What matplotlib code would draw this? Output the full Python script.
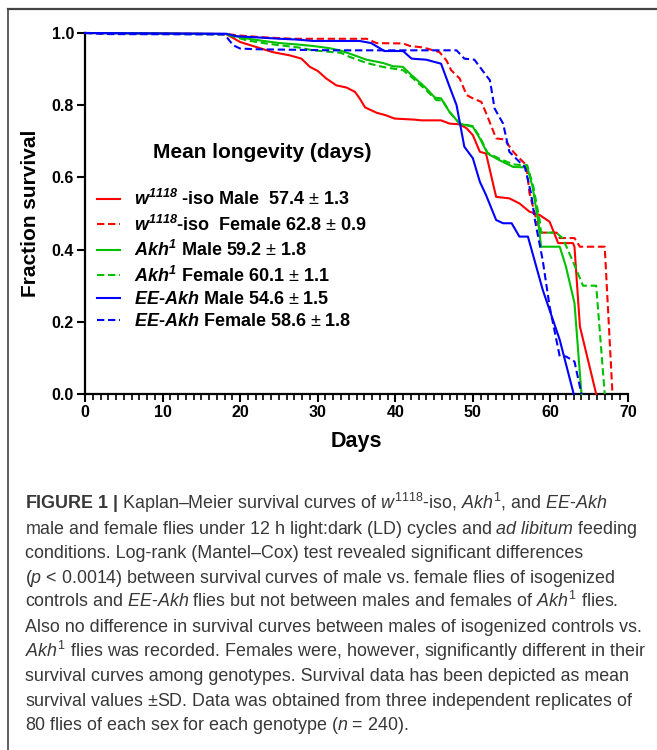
import matplotlib
matplotlib.use("Agg")
import matplotlib.pyplot as plt
from matplotlib.lines import Line2D
from matplotlib.ticker import MultipleLocator, FormatStrFormatter

plt.rcParams['font.family'] = ['Liberation Sans', 'DejaVu Sans']
plt.rcParams['mathtext.fontset'] = 'custom'
plt.rcParams['mathtext.rm'] = 'Liberation Sans'
plt.rcParams['mathtext.it'] = 'Liberation Sans:italic'
plt.rcParams['mathtext.bf'] = 'Liberation Sans:bold'
plt.rcParams['mathtext.bfit'] = 'Liberation Sans:italic:bold'

# Survival curves (day, fraction surviving)
w_male_days = [0, 18.2, 20, 22.1, 24.2, 26.4, 27.9, 29.0, 30.0, 31.1, 32.4, 33.7, 34.8, 35.4,
               36.1, 37.6, 38.8, 39.9, 42.5, 43.4, 45.9, 47.0, 48.3, 49.2, 50.0, 50.9, 51.7,
               53.0, 54.7, 56.0, 57.3, 58.6, 59.9, 61.0, 62.9, 63.1, 63.8, 65.9]
w_male_surv = [1.0, 0.997, 0.975, 0.961, 0.947, 0.938, 0.929, 0.906, 0.895, 0.874, 0.855, 0.849,
               0.837, 0.819, 0.794, 0.779, 0.772, 0.763, 0.760, 0.758, 0.758, 0.749, 0.747, 0.736,
               0.717, 0.671, 0.666, 0.546, 0.542, 0.528, 0.505, 0.496, 0.477, 0.418, 0.418, 0.408,
               0.187, 0.0]

w_female_days = [0, 18.2, 20, 23, 26.8, 36.3, 37.6, 41.0, 41.9, 43.6, 45.7, 46.6, 47.2, 48.3,
                 49.2, 50.0, 51.1, 51.9, 53.0, 54.1, 55.2, 56.0, 56.9, 57.3, 58.2, 58.8, 60.8,
                 61.2, 63.1, 63.8, 67.0, 68.0]
w_female_surv = [1.0, 0.997, 0.993, 0.988, 0.984, 0.984, 0.972, 0.971, 0.964, 0.960, 0.947, 0.924,
                 0.897, 0.874, 0.828, 0.819, 0.809, 0.768, 0.708, 0.705, 0.671, 0.653, 0.634, 0.556,
                 0.482, 0.447, 0.447, 0.432, 0.432, 0.408, 0.408, 0.0]

akh_male_days = [0, 18.2, 20.8, 23.0, 25.1, 27.5, 29.4, 31.5, 33.0, 34.1, 36.3, 38.4, 39.7, 41.0,
                 42.1, 43.8, 45.1, 45.9, 47.0, 48.3, 50.0, 50.9, 51.9, 53.4, 55.2, 56.4, 57.0,
                 57.7, 58.4, 58.8, 61.2, 62.0, 63.1, 64.0]
akh_male_surv = [1.0, 0.997, 0.985, 0.978, 0.972, 0.968, 0.964, 0.958, 0.951, 0.943, 0.926, 0.917,
                 0.908, 0.906, 0.883, 0.851, 0.821, 0.819, 0.781, 0.749, 0.740, 0.708, 0.666, 0.648,
                 0.629, 0.628, 0.629, 0.574, 0.482, 0.408, 0.408, 0.353, 0.252, 0.0]

akh_female_days = [0, 18.2, 20.8, 23.0, 25.1, 27.5, 29.4, 31.5, 33.0, 34.1, 36.3, 38.4, 41.0, 42.1,
                   44.0, 45.3, 46.1, 47.0, 48.3, 50.0, 50.9, 51.9, 53.4, 55.2, 56.4, 57.0, 57.8,
                   58.6, 58.8, 60.75, 61.6, 63.1, 64.2, 65.9, 67.0]
akh_female_surv = [1.0, 0.996, 0.980, 0.972, 0.966, 0.960, 0.952, 0.948, 0.945, 0.934, 0.917, 0.906,
                   0.897, 0.878, 0.841, 0.814, 0.813, 0.781, 0.749, 0.742, 0.712, 0.668, 0.652, 0.636,
                   0.634, 0.634, 0.574, 0.482, 0.447, 0.447, 0.431, 0.357, 0.300, 0.300, 0.0]

ee_male_days = [0, 18.2, 19.5, 22.1, 25.1, 27.2, 29.4, 35.4, 36.9, 38.6, 41.0, 42.1, 44.0, 45.9,
                47.0, 47.9, 48.9, 50.0, 50.9, 51.7, 53.0, 53.9, 55.0, 56.0, 57.1, 59.0, 61.2, 63.0]
ee_male_surv = [1.0, 0.998, 0.991, 0.988, 0.984, 0.982, 0.978, 0.978, 0.972, 0.950, 0.950, 0.929,
                0.926, 0.915, 0.851, 0.800, 0.685, 0.653, 0.588, 0.551, 0.482, 0.473, 0.473, 0.436,
                0.436, 0.289, 0.150, 0.0]

ee_female_days = [0, 3, 18.0, 19.1, 20.0, 22.0, 32.0, 47.9, 48.9, 50.2, 51.7, 52.2, 52.8, 53.9,
                  54.7, 56.0, 56.7, 57.5, 58.0, 59.0, 59.9, 61.2, 62.0, 63.1, 64.0]
ee_female_surv = [1.0, 0.997, 0.996, 0.966, 0.957, 0.955, 0.952, 0.952, 0.929, 0.926, 0.883, 0.869,
                  0.791, 0.749, 0.671, 0.643, 0.629, 0.556, 0.482, 0.371, 0.242, 0.104, 0.104,
                  0.090, 0.0]

labels = [
    r"$\mathbfit{w}^{\mathbfit{1118}}$ -iso Male  57.4 $\pm$ 1.3",
    r"$\mathbfit{w}^{\mathbfit{1118}}$-iso  Female 62.8 $\pm$ 0.9",
    r"$\mathbfit{Akh}^{\mathbfit{1}}$ Male 59.2 $\pm$ 1.8",
    r"$\mathbfit{Akh}^{\mathbfit{1}}$ Female 60.1 $\pm$ 1.1",
    r"$\mathbfit{EE}$-$\mathbfit{Akh}$ Male 54.6 $\pm$ 1.5",
    r"$\mathbfit{EE}$-$\mathbfit{Akh}$ Female 58.6 $\pm$ 1.8",
]
series = [
    (w_male_days, w_male_surv, '#ff0000', '-'),
    (w_female_days, w_female_surv, '#ff0000', '--'),
    (akh_male_days, akh_male_surv, '#00c000', '-'),
    (akh_female_days, akh_female_surv, '#00c000', '--'),
    (ee_male_days, ee_male_surv, '#0000ff', '-'),
    (ee_female_days, ee_female_surv, '#0000ff', '--'),
]

fig = plt.figure(figsize=(6.57, 7.5), dpi=100)
ax = fig.add_axes([85 / 657, 1 - 394 / 750, 543 / 657, 361 / 750])

handles = []
for (d, s, c, ls), lab in zip(series, labels):
    ln, = ax.plot(d, s, color=c, ls=ls, lw=1.5, clip_on=False, zorder=3)
    if ls == '--':
        ln.set_dashes((3.5, 1.8))
    handles.append(ln)

ax.set_xlim(0, 70)
ax.set_ylim(0, 1.0)
for side in ['top', 'right']:
    ax.spines[side].set_visible(False)
for side in ['left', 'bottom']:
    ax.spines[side].set_linewidth(1.6)
ax.xaxis.set_major_locator(MultipleLocator(10))
ax.xaxis.set_minor_locator(MultipleLocator(1))
ax.yaxis.set_major_locator(MultipleLocator(0.2))
ax.yaxis.set_major_formatter(FormatStrFormatter('%.1f'))
ax.tick_params(axis='both', which='major', length=6, width=1.5, labelsize=11.5, pad=2)
ax.tick_params(axis='x', which='minor', length=4, width=1.2)
for t in ax.get_xticklabels() + ax.get_yticklabels():
    t.set_fontweight('bold')

ax.set_xlabel("Days", fontsize=15.5, fontweight='bold', labelpad=8)
ax.set_ylabel("Fraction survival", fontsize=15, fontweight='bold', labelpad=8)

ax.text(0.326, 0.668, "Mean longevity (days)", transform=ax.transAxes, ha='center', va='center',
        fontsize=15, fontweight='bold')
ax.legend(handles, labels, loc='upper left', bbox_to_anchor=(0.022, 0.568), frameon=False,
          borderpad=0, borderaxespad=0, handlelength=1.3, handletextpad=0.75, labelspacing=0.3,
          prop={'weight': 'bold', 'size': 13})

# frame of the figure panel
fig.add_artist(Line2D([8 / 657, 1], [1 - 9 / 750, 1 - 9 / 750], transform=fig.transFigure,
                      color='#444444', lw=1.6))
fig.add_artist(Line2D([8 / 657, 8 / 657], [1 - 9 / 750, 0], transform=fig.transFigure,
                      color='#444444', lw=1.2))

caption = [
    r"$\mathbf{FIGURE}$ $\mathbf{1}$ $\mathbf{|}$ Kaplan–Meier survival curves of $\mathit{w}^{1118}$-iso, $\mathit{Akh}^{1}$, and $\mathit{EE}$-$\mathit{Akh}$",
    r"male and female flies under 12 h light:dark (LD) cycles and $\mathit{ad}$ $\mathit{libitum}$ feeding",
    "conditions. Log-rank (Mantel–Cox) test revealed significant differences",
    r"($\mathit{p}$ < 0.0014) between survival curves of male vs. female flies of isogenized",
    r"controls and $\mathit{EE}$-$\mathit{Akh}$ flies but not between males and females of $\mathit{Akh}^{1}$ flies.",
    "Also no difference in survival curves between males of isogenized controls vs.",
    r"$\mathit{Akh}^{1}$ flies was recorded. Females were, however, significantly different in their",
    "survival curves among genotypes. Survival data has been depicted as mean",
    r"survival values $\pm$SD. Data was obtained from three independent replicates of",
    r"80 flies of each sex for each genotype ($\mathit{n}$ = 240).",
]
for i, line in enumerate(caption):
    fig.text(25 / 657, 1 - (509 + i * 24.6) / 750, line, ha='left', va='baseline',
             fontsize=12.9, color='#383838', fontweight='normal')

fig.savefig("out.png", dpi=100)
